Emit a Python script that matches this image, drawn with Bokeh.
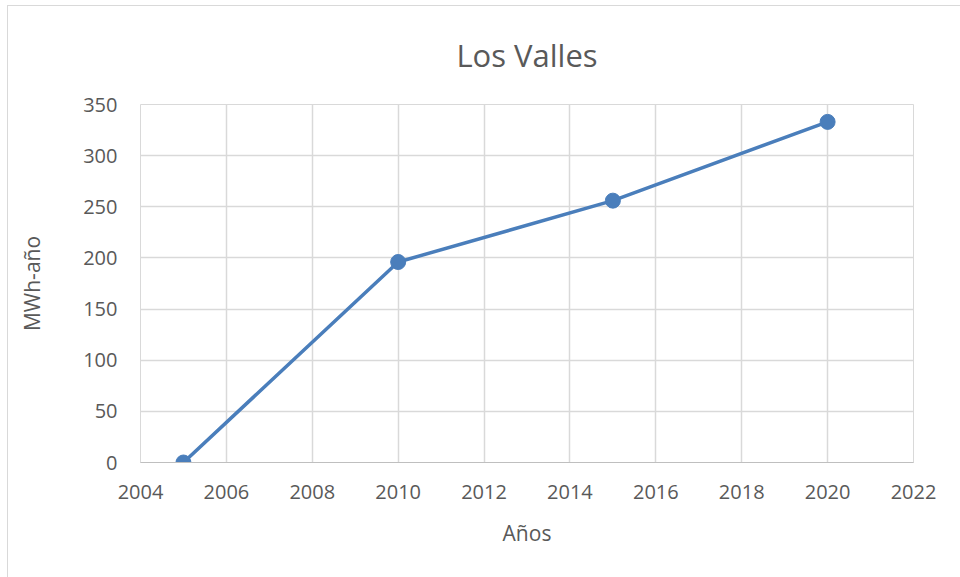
from bokeh.plotting import figure
from bokeh.embed import file_html
from bokeh.resources import INLINE
from bokeh.models import Range1d, FixedTicker

years = [2005, 2010, 2015, 2020]
mwh = [0, 196, 256, 333]
x_ticks = [2004, 2006, 2008, 2010, 2012, 2014, 2016, 2018, 2020, 2022]
y_ticks = [0, 50, 100, 150, 200, 250, 300, 350]

FONT = "Open Sans"
TXT = "#595959"
GRID = "#d9d9d9"
BLUE = "#4a7ebb"

p = figure(width=953, height=572, output_backend="svg", toolbar_location=None,
           x_range=Range1d(2004, 2022), y_range=Range1d(0, 350),
           min_border_left=132, min_border_right=48, min_border_top=97, min_border_bottom=116)
p.styles = {"border-left": "1px solid #d9d9d9", "border-top": "1px solid #d9d9d9",
            "margin-left": "7px", "margin-top": "5px"}

p.title.text = "Los Valles"
p.title.align = "center"
p.title.vertical_align = "top"
p.title.text_font = FONT
p.title.text_font_size = "31px"
p.title.text_font_style = "normal"
p.title.text_color = TXT
p.title.standoff = 54

p.outline_line_color = GRID

p.xaxis.ticker = FixedTicker(ticks=x_ticks)
p.yaxis.ticker = FixedTicker(ticks=y_ticks)
for ax in (p.xaxis, p.yaxis):
    ax.major_tick_line_color = None
    ax.minor_tick_line_color = None
    ax.major_label_text_font = FONT
    ax.major_label_text_font_size = "20px"
    ax.major_label_text_color = TXT
    ax.axis_label_text_font = FONT
    ax.axis_label_text_font_size = "21px"
    ax.axis_label_text_font_style = "normal"
    ax.axis_label_text_color = TXT
p.xaxis.axis_line_color = "#bfbfbf"
p.yaxis.axis_line_color = None
p.xaxis.axis_label = "Años"
p.yaxis.axis_label = "MWh-año"
p.xaxis.major_label_standoff = 16
p.yaxis.major_label_standoff = 17
p.xaxis.axis_label_standoff = 17
p.yaxis.axis_label_standoff = 34

p.xgrid.grid_line_color = GRID
p.ygrid.grid_line_color = GRID
p.xgrid.grid_line_width = 1.5
p.ygrid.grid_line_width = 1.5
p.xgrid.ticker = FixedTicker(ticks=x_ticks)
p.ygrid.ticker = FixedTicker(ticks=y_ticks)

p.line(years, mwh, line_color=BLUE, line_width=3.5)
p.scatter(years, mwh, size=15, fill_color=BLUE, line_color=BLUE)

open("out.html", "w").write(file_html(p, INLINE))
